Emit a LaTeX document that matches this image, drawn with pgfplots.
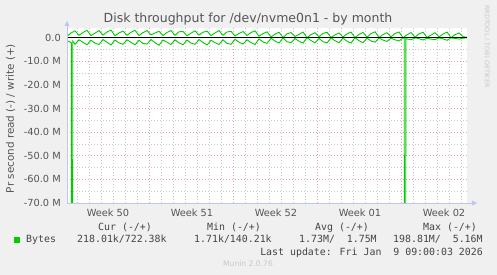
\documentclass[border=0pt]{standalone}
\usepackage{pgfplots}
\pgfplotsset{compat=1.18}
\usepackage{fontspec}
\setmainfont{DejaVu Sans}
\newfontfamily\mono{DejaVu Sans Mono}
\definecolor{bg}{HTML}{F0F0F0}
\definecolor{muningreen}{HTML}{00CC00}
\definecolor{txt}{HTML}{555555}
\definecolor{legtxt}{HTML}{444444}
\definecolor{majgrid}{HTML}{E2A4A4}
\definecolor{mingrid}{HTML}{C8C8C8}
\definecolor{axcol}{HTML}{BCC6F0}
\definecolor{faint}{HTML}{C8C8C8}
\begin{document}
\begin{tikzpicture}[x=1pt,y=1pt]
\fill[bg] (0,0) rectangle (497,275);
\begin{axis}[
  at={(67pt,72pt)}, anchor=south west,
  scale only axis, width=400pt, height=175pt,
  xmin=0, xmax=33.333, ymin=-70, ymax=4.1,
  axis background/.style={fill=white},
  axis line style={draw=none},
  major tick length=0pt, minor tick length=0pt,
  xtick={6.833,13.833,20.833,27.833}, xticklabels={},
  minor xtick={0.833,1.833,2.833,3.833,4.833,5.833,7.833,8.833,9.833,10.833,11.833,12.833,14.833,15.833,16.833,17.833,18.833,19.833,21.833,22.833,23.833,24.833,25.833,26.833,28.833,29.833,30.833,31.833,32.833},
  ytick={-70,-60,-50,-40,-30,-20,-10,0},
  yticklabels={-70.0 M,-60.0 M,-50.0 M,-40.0 M,-30.0 M,-20.0 M,-10.0 M,0.0},
  minor ytick={-65,-55,-45,-35,-25,-15,-5},
  yticklabel style={font=\fontsize{9.8}{11}\selectfont, text=txt, inner sep=0pt, xshift=-6pt},
  grid=both,
  major grid style={majgrid, line width=0.6pt, dash pattern=on 1pt off 2pt},
  minor grid style={mingrid, line width=0.6pt, dash pattern=on 1pt off 2pt},
  clip=true,
]
\addplot[muningreen, line width=0.9pt] coordinates {
(0,0.6)(0.33,2.0)(0.67,2.9)
(1,1.0)(1.33,2.2)(1.67,3.1)
(2,0.9)(2.33,1.9)(2.67,3.0)
(3,1.1)(3.33,2.4)(3.67,3.2)
(4,0.8)(4.33,2.0)(4.67,2.8)
(5,1.0)(5.33,2.3)(5.67,3.1)
(6,0.9)(6.33,2.1)(6.67,3.0)
(7,1.2)(7.33,2.0)(7.67,2.7)
(8,0.9)(8.33,2.2)(8.67,3.0)
(9,1.0)(9.33,2.5)(9.67,2.6)
(10,0.8)(10.33,1.9)(10.67,2.9)
(11,1.1)(11.33,2.3)(11.67,2.8)
(12,0.9)(12.33,2.0)(12.67,3.0)
(13,1.0)(13.33,2.4)(13.67,2.7)
(14,0.7)(14.33,1.8)(14.67,2.6)
(15,0.9)(15.33,2.2)(15.67,2.9)
(16,0.6)(16.33,1.7)(16.67,2.5)
(17,0.3)(17.33,1.5)(17.67,2.3)
(18,0.1)(18.33,1.6)(18.67,2.2)
(19,0.5)(19.33,1.4)(19.67,2.4)
(20,0.0)(20.33,1.3)(20.67,2.1)
(21,0.4)(21.33,1.8)(21.67,2.3)
(22,0.1)(22.33,1.2)(22.67,2.0)
(23,0.3)(23.33,1.6)(23.67,2.4)
(24,0.0)(24.33,1.4)(24.67,2.2)
(25,0.2)(25.33,1.7)(25.67,2.5)
(26,0.1)(26.33,1.3)(26.67,2.1)
(27,0.3)(27.33,1.8)(27.67,2.4)
(28,0.0)(28.33,1.2)(28.67,2.2)
(29,0.2)(29.33,1.6)(29.67,2.3)
(30,0.1)(30.33,1.1)(30.67,2.1)
(31,0.3)(31.33,1.5)(31.67,2.4)
(32,0.0)(32.33,1.3)(32.67,2.0)
(33,0.4)(33.33,0.2)
};
\addplot[muningreen, line width=0.9pt] coordinates {
(0,-1.2)(0.33,-2.1)(0.36,-2.2)(0.38,-198.81)(0.46,-198.81)(0.48,-1.4)(0.67,-2.8)
(1,-0.9)(1.33,-2.0)(1.67,-3.0)
(2,-1.1)(2.33,-2.3)(2.67,-2.9)
(3,-0.8)(3.33,-1.9)(3.67,-3.1)
(4,-1.0)(4.33,-2.2)(4.67,-2.8)
(5,-0.9)(5.33,-2.0)(5.67,-3.0)
(6,-1.1)(6.33,-2.4)(6.67,-2.7)
(7,-0.8)(7.33,-2.1)(7.67,-3.2)
(8,-1.0)(8.33,-1.9)(8.67,-2.9)
(9,-0.9)(9.33,-2.2)(9.67,-3.0)
(10,-1.0)(10.33,-2.3)(10.67,-2.8)
(11,-0.8)(11.33,-2.0)(11.67,-3.1)
(12,-1.1)(12.33,-2.1)(12.67,-2.9)
(13,-0.9)(13.33,-2.4)(13.67,-2.8)
(14,-0.7)(14.33,-1.9)(14.67,-2.7)
(15,-0.9)(15.33,-2.1)(15.67,-2.9)
(16,-0.5)(16.33,-1.8)(16.67,-2.4)
(17,-0.3)(17.33,-1.4)(17.67,-2.3)
(18,-0.1)(18.33,-1.7)(18.67,-2.1)
(19,-0.4)(19.33,-1.5)(19.67,-2.3)
(20,0.0)(20.33,-1.2)(20.67,-2.2)
(21,-0.3)(21.33,-1.7)(21.67,-2.2)
(22,-0.1)(22.33,-1.3)(22.67,-2.1)
(23,-0.2)(23.33,-1.5)(23.67,-2.3)
(24,0.0)(24.33,-1.3)(24.67,-2.1)
(25,-0.2)(25.33,-1.4)(25.67,-1.9)
(26,-0.1)(26.33,-1.0)(26.67,-1.6)
(27,-0.2)(27.33,-0.9)(27.67,-1.4)
(28,-0.1)(28.1,-0.3)(28.13,-198.81)(28.21,-198.81)(28.24,-0.4)(28.33,-0.5)(28.67,-0.9)
(29,-0.1)(29.33,-0.4)(29.67,-1.0)
(30,-0.2)(30.33,-0.6)(30.67,-0.8)
(31,-0.1)(31.33,-0.5)(31.67,-1.1)
(32,-0.1)(32.33,-0.3)(32.67,-0.6)
(33,-0.2)(33.33,-0.1)
};
\addplot[black, line width=0.7pt] coordinates {(0,0)(33.333,0)};
\end{axis}
% axis lines with arrows
\draw[axcol, line width=0.8pt] (67,72) -- (67,251);
\fill[axcol] (64.5,249) -- (69.5,249) -- (67,254) -- cycle;
\draw[axcol, line width=0.8pt] (67,72) -- (473,72);
\fill[axcol] (472,69.5) -- (472,74.5) -- (477,72) -- cycle;
% title
\node[anchor=base, text=txt, inner sep=0pt, font=\fontsize{12.5}{15}\selectfont] at (248,252.5) {Disk throughput for /dev/nvme0n1 - by month};
% y label
\node[rotate=90, text=txt, inner sep=0pt, font=\fontsize{10.4}{12}\selectfont] at (10.5,156.5) {Pr second read (-) / write (+)};
% week labels
\foreach \xx/\lab in {108/Week 50,192/Week 51,276/Week 52,360/Week 01,444/Week 02}
  \node[anchor=base, text=txt, inner sep=0pt, font=\fontsize{9.8}{11}\selectfont] at (\xx,58) {\lab};
% right vertical text
\node[rotate=-90, anchor=west, text=faint, inner sep=0pt, font=\fontsize{6.4}{7}\selectfont] at (487,270) {RRDTOOL / TOBI OETIKER};
% legend
\begin{scope}[every node/.style={inner sep=0pt, text=legtxt, font=\mono\fontsize{9.9}{11}\selectfont}]
\node[anchor=base west] at (98,44) {Cur (-/+)};
\node[anchor=base west] at (207,44) {Min (-/+)};
\node[anchor=base west] at (315,44) {Avg (-/+)};
\node[anchor=base west] at (423,44) {Max (-/+)};
\node[anchor=base west] at (26,32) {Bytes};
\node[anchor=base west] at (77,32) {218.01k/722.38k};
\node[anchor=base west] at (194,32) {1.71k/140.21k};
\node[anchor=base west] at (299,32) {1.73M/\ \ 1.75M};
\node[anchor=base west] at (393,32) {198.81M/\ \ 5.16M};
\node[anchor=base east] at (483,19) {Last update: Fri Jan\ \ 9 09:00:03 2026};
\end{scope}
\fill[muningreen] (14,32) rectangle (20,38);
\node[anchor=base, inner sep=0pt, text=faint, font=\fontsize{7.6}{9}\selectfont] at (248,8.5) {Munin 2.0.76};
\end{tikzpicture}
\end{document}
